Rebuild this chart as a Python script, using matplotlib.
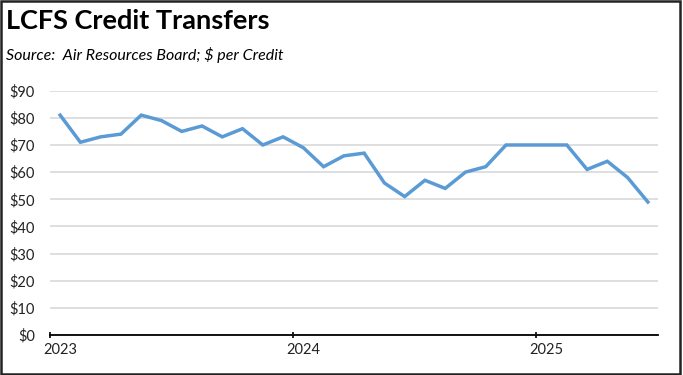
import matplotlib.pyplot as plt
from matplotlib.patches import Rectangle

# monthly average price, Jan 2023 .. Jun 2025
months = list(range(30))
prices = [81, 71, 73, 74, 81, 79, 75, 77, 73, 76, 70, 73,
          69, 62, 66, 67, 56, 51, 57, 54, 60, 62, 70, 70,
          70, 70, 61, 64, 58, 49]
year_labels = ['2023', '2024', '2025']
year_pos = [0, 12, 24]
year_bounds = [-0.5, 11.5, 23.5]
yticks = list(range(0, 100, 10))

plt.rcParams['font.family'] = ['Lato', 'DejaVu Sans']

fig = plt.figure(figsize=(6.83, 3.75), dpi=100)
ax = fig.add_axes([50/683, 1 - 335/375, 608/683, (335 - 90.7)/375])

ax.plot(months, prices, color='#5B9BD5', linewidth=2.5, solid_joinstyle='miter')

ax.set_xlim(-0.5, 29.5)
ax.set_ylim(0, 90)
ax.set_yticks(yticks)
ax.set_yticklabels(['$' + str(v) for v in yticks], fontsize=10.5, color='#222222')
ax.tick_params(axis='y', length=0, pad=11)
ax.yaxis.grid(True, color='#d9d9d9', linewidth=1.2)
ax.set_axisbelow(True)

ax.set_xticks(year_bounds)
ax.set_xticklabels([])
ax.set_xticks(year_pos, minor=True)
ax.set_xticklabels(year_labels, minor=True, fontsize=10.5, color='#222222')
ax.tick_params(axis='x', which='major', length=5, width=1.2, direction='inout', color='black')
ax.tick_params(axis='x', which='minor', length=0, pad=6)

for s in ['top', 'right', 'left']:
    ax.spines[s].set_visible(False)
ax.spines['bottom'].set_linewidth(1.3)

fig.text(6/683, 1 - 21/375, 'LCFS Credit Transfers', fontsize=19.5, fontweight='bold', va='center', ha='left')
fig.text(6/683, 1 - 55/375, 'Source:  Air Resources Board; $ per Credit', fontsize=11.5, style='italic', va='center', ha='left')

fig.patches.append(Rectangle((0.002, 0.003), 0.994, 0.994, transform=fig.transFigure,
                             fill=False, edgecolor='#222222', linewidth=1.8))

fig.savefig('out.png', dpi=100)
